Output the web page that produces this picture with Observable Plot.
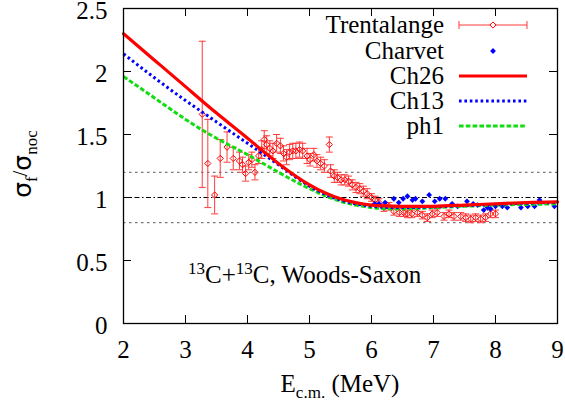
<!DOCTYPE html>
<html><head><meta charset="utf-8">
<script src="https://cdn.jsdelivr.net/npm/d3@7"></script>
<script src="https://cdn.jsdelivr.net/npm/@observablehq/plot@0.6"></script>
<style>
body{margin:0;background:#fff;}
#chart svg{overflow:hidden;}
#chart svg, #chart svg text{font-family:"Liberation Serif","Times New Roman",serif !important;}
#chart svg text tspan.sym{font-family:"DejaVu Sans",sans-serif !important;}
</style></head><body><div id="chart"></div>
<script>
const xTicks = [2,3,4,5,6,7,8,9];
const yTicks = [0,0.5,1,1.5,2,2.5];
const refSide = [0.8,1.2];
const refMid = [1.0];

// Trentalange (E_cm, ratio, error)
const trentE = [3.27,3.36,3.47,3.56,3.67,3.77,3.87,3.92,3.97,4.02,4.07,4.12,4.18,4.23,4.27,4.31,4.36,4.41,4.47,4.53,4.58,4.63,4.68,4.73,4.78,4.84,4.89,4.96,5.01,5.07,5.12,5.18,5.24,5.32,5.34,5.40,5.45,5.51,5.57,5.63,5.69,5.75,5.81,5.87,5.93,6.00,6.06,6.12,6.20,6.28,6.36,6.45,6.52,6.58,6.65,6.74,6.82,6.90,6.98,7.06,7.17,7.25,7.33,7.44,7.52,7.60,7.68,7.76,7.84,7.92,8.00];
const trentV = [1.66,1.27,1.02,1.31,1.40,1.31,1.29,1.26,1.19,1.28,1.30,1.20,1.33,1.38,1.46,1.42,1.39,1.37,1.43,1.41,1.35,1.32,1.36,1.37,1.37,1.38,1.37,1.33,1.30,1.34,1.29,1.27,1.25,1.42,1.21,1.17,1.16,1.14,1.14,1.13,1.10,1.08,1.07,1.05,1.03,1.00,0.98,0.96,0.92,0.93,0.89,0.88,0.88,0.87,0.87,0.88,0.86,0.84,0.87,0.88,0.85,0.87,0.85,0.85,0.84,0.83,0.84,0.83,0.84,0.87,0.87];
const trentErr = [0.58,0.35,0.15,0.15,0.12,0.09,0.07,0.06,0.06,0.06,0.06,0.06,0.06,0.07,0.07,0.07,0.06,0.06,0.07,0.06,0.06,0.06,0.06,0.06,0.06,0.06,0.06,0.06,0.05,0.05,0.05,0.05,0.05,0.06,0.05,0.05,0.04,0.04,0.04,0.04,0.04,0.04,0.04,0.04,0.04,0.03,0.03,0.03,0.03,0.03,0.03,0.03,0.03,0.03,0.03,0.03,0.03,0.03,0.03,0.03,0.03,0.03,0.03,0.03,0.03,0.03,0.03,0.03,0.03,0.03,0.03];

// Charvet
const charvetE = [6.05,6.12,6.22,6.36,6.44,6.51,6.58,6.66,6.71,6.82,6.93,7.02,7.10,7.19,7.30,7.39,7.54,7.64,7.71,7.81,7.87,7.92,8.00,8.11,8.19,8.41,8.52,8.63,8.71,8.95];
const charvetV = [0.95,0.95,0.96,0.99,0.96,0.99,1.01,0.98,0.99,0.97,1.02,0.97,0.99,0.99,0.95,0.93,0.97,0.95,0.94,0.90,0.92,0.91,0.93,0.93,0.92,0.92,0.93,0.93,0.98,0.93];

// Model curves
const curveE = [2,2.5,3,3.5,4,4.5,5,5.5,6,6.5,7,7.5,8,8.5,9];
const ch26 = [2.30,2.09,1.88,1.67,1.47,1.27,1.10,0.99,0.94,0.93,0.93,0.94,0.95,0.96,0.965];
const ch13 = [2.14,1.95,1.77,1.60,1.43,1.26,1.09,0.98,0.93,0.92,0.925,0.935,0.945,0.955,0.96];
const ph1  = [1.96,1.79,1.62,1.47,1.34,1.20,1.07,0.97,0.92,0.91,0.92,0.93,0.94,0.945,0.95];

const trent = trentE.map((e,i)=>({e, v:trentV[i], err:trentErr[i]}));
const charvet = charvetE.map((e,i)=>({e, v:charvetV[i]}));
const curves = (arr)=>curveE.map((e,i)=>({e, v:arr[i]}));

const W = 565, H = 408, mL = 123, mR = 8, mT = 8, mB = 85;
const innerW = W-mL-mR, innerH = H-mT-mB;
const tickLen = 8;
const capSymbol = {draw(ctx){ ctx.moveTo(-3.5,0); ctx.lineTo(3.5,0); }};
const red = "#ff0000", errRed = "#ff3a3a", blue = "#0000ff", green = "#11dd11";
const dashBlue = "2.6,2.8", dashGreen = "4.6,2.2", dashSide = "2.5,3.5", dashMid = "5,2.5,1.5,2.5";
const ff = '"Liberation Serif","Times New Roman",serif';
const FS = 25, FSs = 17;

const chart = Plot.plot({
  width: W, height: H,
  marginLeft: mL, marginRight: mR, marginTop: mT, marginBottom: mB,
  style: {fontFamily: ff, fontSize: FS+"px", background: "#fff", color: "#000"},
  x: {domain: [2,9], label: null},
  y: {domain: [0,2.5], label: null},
  marks: [
    Plot.ruleY(refSide, {y: d=>d, stroke: "#555", strokeWidth: 1, strokeDasharray: dashSide}),
    Plot.ruleY(refMid, {y: d=>d, stroke: "#000", strokeWidth: 1, strokeDasharray: dashMid}),
    // error bars
    Plot.ruleX(trent, {x: "e", y1: d=>d.v-d.err, y2: d=>d.v+d.err, stroke: errRed, strokeWidth: 1}),
    Plot.dot(trent, {x: "e", y: d=>d.v+d.err, symbol: capSymbol, r: 3, stroke: errRed, fill: "none", strokeWidth: 1}),
    Plot.dot(trent, {x: "e", y: d=>d.v-d.err, symbol: capSymbol, r: 3, stroke: errRed, fill: "none", strokeWidth: 1}),
    Plot.dot(trent, {x: "e", y: "v", symbol: "diamond2", r: 2.8, stroke: red, fill: "none", strokeWidth: 1}),
    Plot.dot(charvet, {x: "e", y: "v", symbol: "diamond2", r: 2.6, fill: blue, stroke: "none"}),
    Plot.line(curves(ph1), {x: "e", y: "v", stroke: green, strokeWidth: 3, strokeDasharray: dashGreen, strokeLinecap: "butt", strokeLinejoin: "miter", curve: "natural"}),
    Plot.line(curves(ch13), {x: "e", y: "v", stroke: blue, strokeWidth: 3, strokeDasharray: dashBlue, strokeLinecap: "butt", strokeLinejoin: "miter", curve: "natural"}),
    Plot.line(curves(ch26), {x: "e", y: "v", stroke: red, strokeWidth: 3.2, curve: "natural"}),
    // inward ticks
    Plot.tickX(xTicks, {x: d=>d, insetTop: innerH-tickLen, stroke: "#000"}),
    Plot.tickX(xTicks, {x: d=>d, insetBottom: innerH-tickLen, stroke: "#000"}),
    Plot.tickY(yTicks, {y: d=>d, insetRight: innerW-tickLen, stroke: "#000"}),
    Plot.tickY(yTicks, {y: d=>d, insetLeft: innerW-tickLen, stroke: "#000"}),
    Plot.axisX({ticks: xTicks, tickSize: 0, tickPadding: 17, tickFormat: d=>String(d), label: null}),
    Plot.axisY({ticks: yTicks, tickSize: 0, tickPadding: 16, dy: 2, tickFormat: d=>String(d), label: null}),
    Plot.frame({stroke: "#000", strokeWidth: 1.3})
  ]
});
document.getElementById("chart").appendChild(chart);

const svg = d3.select(chart);
const applyDash = (node, dash) => { d3.select(node).attr("stroke-dasharray", dash).attr("stroke-linecap","butt").selectAll("path,line").attr("stroke-dasharray", dash).attr("stroke-linecap","butt"); };
const lineGroups = svg.selectAll('g[aria-label="line"]').nodes();
if (lineGroups.length >= 2) { applyDash(lineGroups[0], dashGreen); applyDash(lineGroups[1], dashBlue); }
const ruleGroups = svg.selectAll('g[aria-label="rule"]').nodes();
if (ruleGroups.length >= 2) { applyDash(ruleGroups[0], dashSide); applyDash(ruleGroups[1], dashMid); }

const xs = chart.scale("x"), ys = chart.scale("y");

// Annotation
const ann = svg.append("text").attr("x", xs.apply(4.93)).attr("y", ys.apply(0.315))
  .attr("text-anchor","middle").attr("font-size", FS).attr("fill","#000");
ann.append("tspan").attr("font-size",FSs).attr("dy",-9).text("13");
ann.append("tspan").attr("dy",9).text("C+");
ann.append("tspan").attr("font-size",FSs).attr("dy",-9).text("13");
ann.append("tspan").attr("dy",9).text("C, Woods-Saxon");

// X label
const xl = svg.append("text").attr("x", 340).attr("y", 392).attr("text-anchor","middle")
  .attr("font-size", FS).attr("fill","#000");
xl.append("tspan").text("E");
xl.append("tspan").attr("font-size",FSs).attr("dy",6).text("c.m.");
xl.append("tspan").attr("dy",-6).text(" (MeV)");

// Y label
const yl = svg.append("text").attr("transform","translate(31,164) rotate(-90)").attr("text-anchor","middle")
  .attr("font-size", FS).attr("fill","#000");
yl.append("tspan").attr("class","sym").text("σ");
yl.append("tspan").attr("font-size",FSs).attr("dy",6).text("f");
yl.append("tspan").attr("font-size",20).attr("dy",-10).text("/");
yl.append("tspan").attr("class","sym").attr("dy",4).text("σ");
yl.append("tspan").attr("font-size",FSs).attr("dy",6).text("noc");

// Legend
const legend = [
  {name: "Trentalange", y: 25, type: "err"},
  {name: "Charvet", y: 51, type: "pt"},
  {name: "Ch26", y: 76, type: "line", stroke: red, dash: null},
  {name: "Ch13", y: 101, type: "line", stroke: blue, dash: dashBlue},
  {name: "ph1", y: 126, type: "line", stroke: green, dash: dashGreen}
];
const lx0 = 459, lx1 = 527, ltx = 444;
const lg = svg.append("g");
legend.forEach(d=>{
  lg.append("text").attr("x", ltx).attr("y", d.y+8).attr("text-anchor","end")
    .attr("font-size", FS).attr("fill","#000").text(d.name);
  if (d.type==="err") {
    lg.append("line").attr("x1",lx0).attr("x2",lx1).attr("y1",d.y).attr("y2",d.y).attr("stroke",errRed);
    lg.append("line").attr("x1",lx0).attr("x2",lx0).attr("y1",d.y-4).attr("y2",d.y+4).attr("stroke",errRed);
    lg.append("line").attr("x1",lx1).attr("x2",lx1).attr("y1",d.y-4).attr("y2",d.y+4).attr("stroke",errRed);
    lg.append("path").attr("d", d3.symbol(d3.symbolDiamond2, 2.8*2.8*Math.PI)()).attr("transform",`translate(${(lx0+lx1)/2},${d.y})`)
      .attr("fill","#fff").attr("stroke",red);
  } else if (d.type==="pt") {
    lg.append("path").attr("d", d3.symbol(d3.symbolDiamond2, 2.6*2.6*Math.PI)()).attr("transform",`translate(${(lx0+lx1)/2},${d.y})`)
      .attr("fill",blue);
  } else {
    lg.append("line").attr("x1",lx0).attr("x2",lx1).attr("y1",d.y).attr("y2",d.y)
      .attr("stroke",d.stroke).attr("stroke-width",3).attr("stroke-dasharray", d.dash);
  }
});
</script></body></html>
